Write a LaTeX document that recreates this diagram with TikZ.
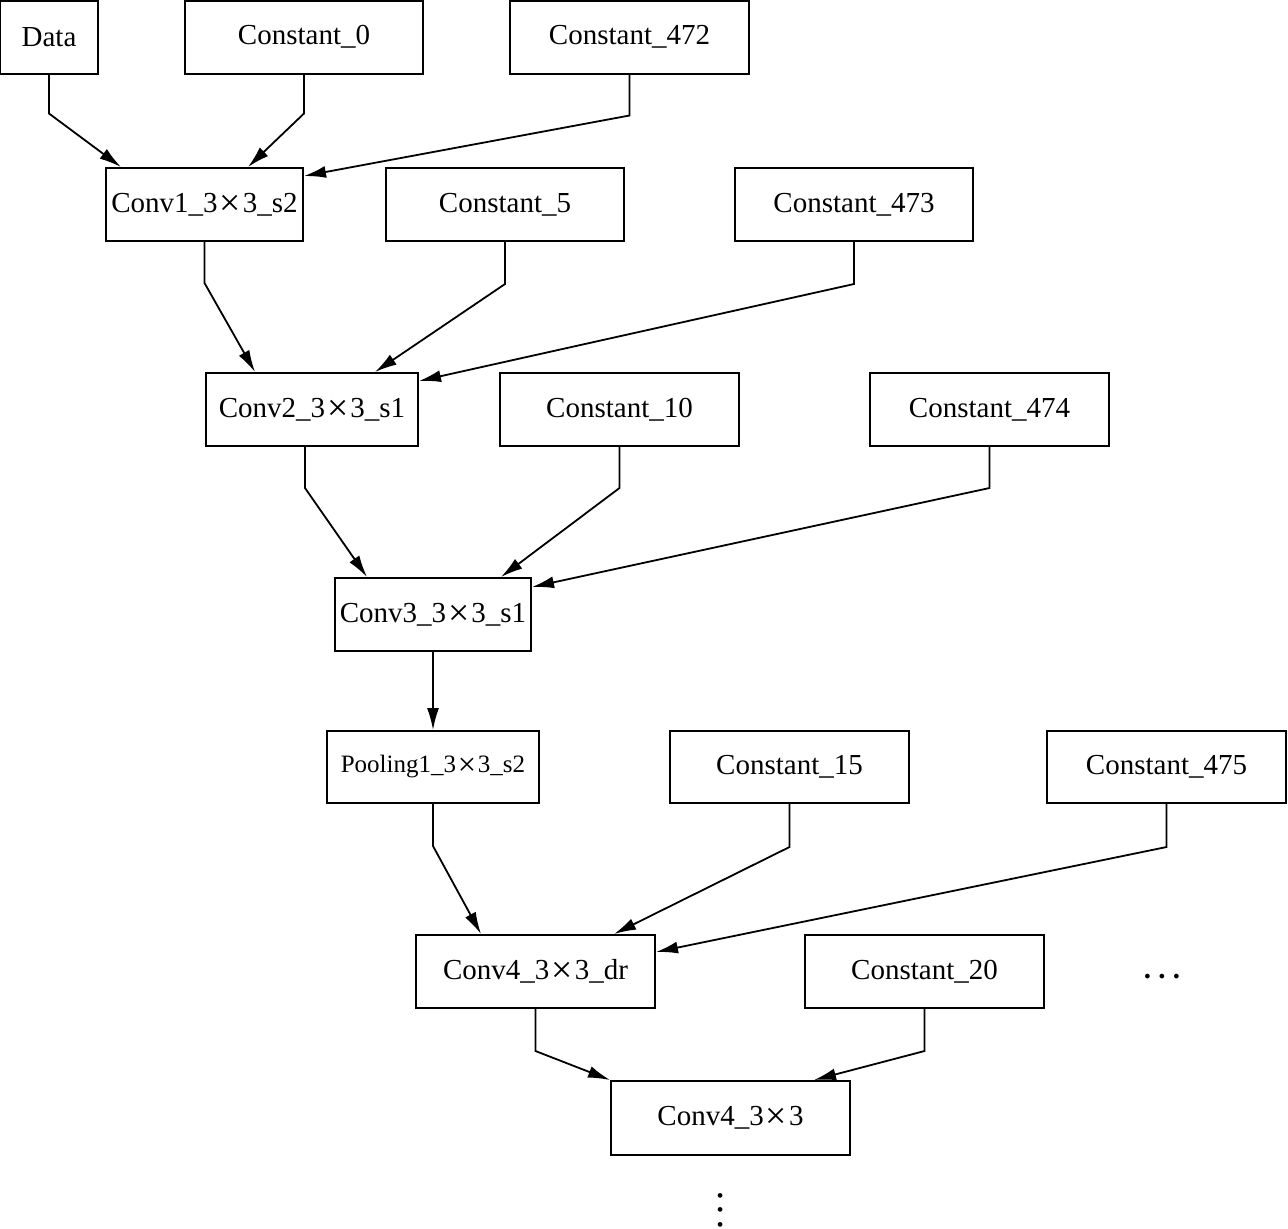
\documentclass[tikz,border=0pt]{standalone}
\usepackage{fontspec}
\usepackage{graphicx}
\setmainfont{Liberation Serif}
\usetikzlibrary{arrows.meta}
\newcommand{\tms}{\kern0.07em\raisebox{-0.11em}{\scalebox{1.3}{×}}\kern0.07em}

\begin{document}
\begin{tikzpicture}[x=0.5pt,y=-0.5pt,
  box/.style={draw,line width=1pt,inner sep=0pt,minimum height=36.5pt,
    font=\fontsize{14.5}{17}\selectfont},
  dots/.style={inner sep=0pt,font=\fontsize{14.5}{17}\selectfont\bfseries},
  edge/.style={line width=0.9pt,-{Latex[length=11pt,width=6pt]}}]
  \useasboundingbox (0,0) rectangle (1288,1228);
  % first row
  \node[box,minimum width=49pt] (data) at (49,37) {Data};
  \node[box,minimum width=119pt] (const0) at (304,37) {Constant\_0};
  \node[box,minimum width=119.5pt] (const472) at (629.5,37) {Constant\_472};
  % second row
  \node[box,minimum width=98.5pt] (conv1) at (204.5,204.5) {Conv1\_3\tms3\_s2};
  \node[box,minimum width=119pt] (const5) at (505,204.5) {Constant\_5};
  \node[box,minimum width=119pt] (const473) at (854,204.5) {Constant\_473};
  % third row
  \node[box,minimum width=106pt] (conv2) at (312,409.5) {Conv2\_3\tms3\_s1};
  \node[box,minimum width=119.5pt] (const10) at (619.5,409.5) {Constant\_10};
  \node[box,minimum width=119.5pt] (const474) at (989.5,409.5) {Constant\_474};
  % fourth row
  \node[box,minimum width=98pt] (conv3) at (433,614.5) {Conv3\_3\tms3\_s1};
  % fifth row
  \node[box,minimum width=106pt,minimum height=36pt,font=\fontsize{12.5}{15}\selectfont] (pool1) at (433,767) {Pooling1\_3\tms3\_s2};
  \node[box,minimum width=119.5pt,minimum height=36pt] (const15) at (789.5,767) {Constant\_15};
  \node[box,minimum width=119.5pt,minimum height=36pt] (const475) at (1166.5,767) {Constant\_475};
  % sixth row
  \node[box,minimum width=119.5pt] (conv4dr) at (535.5,971.5) {Conv4\_3\tms3\_dr};
  \node[box,minimum width=119.5pt] (const20) at (924.5,971.5) {Constant\_20};
  \node[dots] (hdots) at (1162,977) {.\ .\ .};
  % last row
  \node[box,minimum width=119.5pt,minimum height=37pt] (conv4) at (730.5,1118) {Conv4\_3\tms3};
  \node[dots,rotate=90] (vdots) at (721,1210) {.\ .\ .};
  % connectors
  \draw[edge] (data.south) -- ++(0,39) -- ([xshift=8pt]conv1.north west);
  \draw[edge] (const0.south) -- ++(0,39) -- ([xshift=-28pt]conv1.north east);
  \draw[edge] (const472.south) -- ++(0,41) -- ([yshift=-4.5pt]conv1.north east);
  \draw[edge] (conv1.south) -- ++(0,41) -- ([xshift=25pt]conv2.north west);
  \draw[edge] (const5.south) -- ++(0,42) -- ([xshift=-22pt]conv2.north east);
  \draw[edge] (const473.south) -- ++(0,42) -- ([yshift=-4.5pt]conv2.north east);
  \draw[edge] ([xshift=-3.5pt]conv2.south) -- ++(0,41) -- ([xshift=16.5pt]conv3.north west);
  \draw[edge] (const10.south) -- ++(0,41) -- ([xshift=-15.5pt]conv3.north east);
  \draw[edge] (const474.south) -- ++(0,41) -- ([yshift=-5pt]conv3.north east);
  \draw[edge] (conv3) -- (pool1);
  \draw[edge] (pool1.south) -- ++(0,42) -- ([xshift=33pt]conv4dr.north west);
  \draw[edge] (const15.south) -- ++(0,43) -- ([xshift=-21pt]conv4dr.north east);
  \draw[edge] (const475.south) -- ++(0,43) -- ([yshift=-9pt]conv4dr.north east);
  \draw[edge] (conv4dr.south) -- ++(0,42) -- (conv4.north west);
  \draw[edge] (const20.south) -- ++(0,42) -- ([xshift=-18.5pt]conv4.north east);
\end{tikzpicture}
\end{document}
